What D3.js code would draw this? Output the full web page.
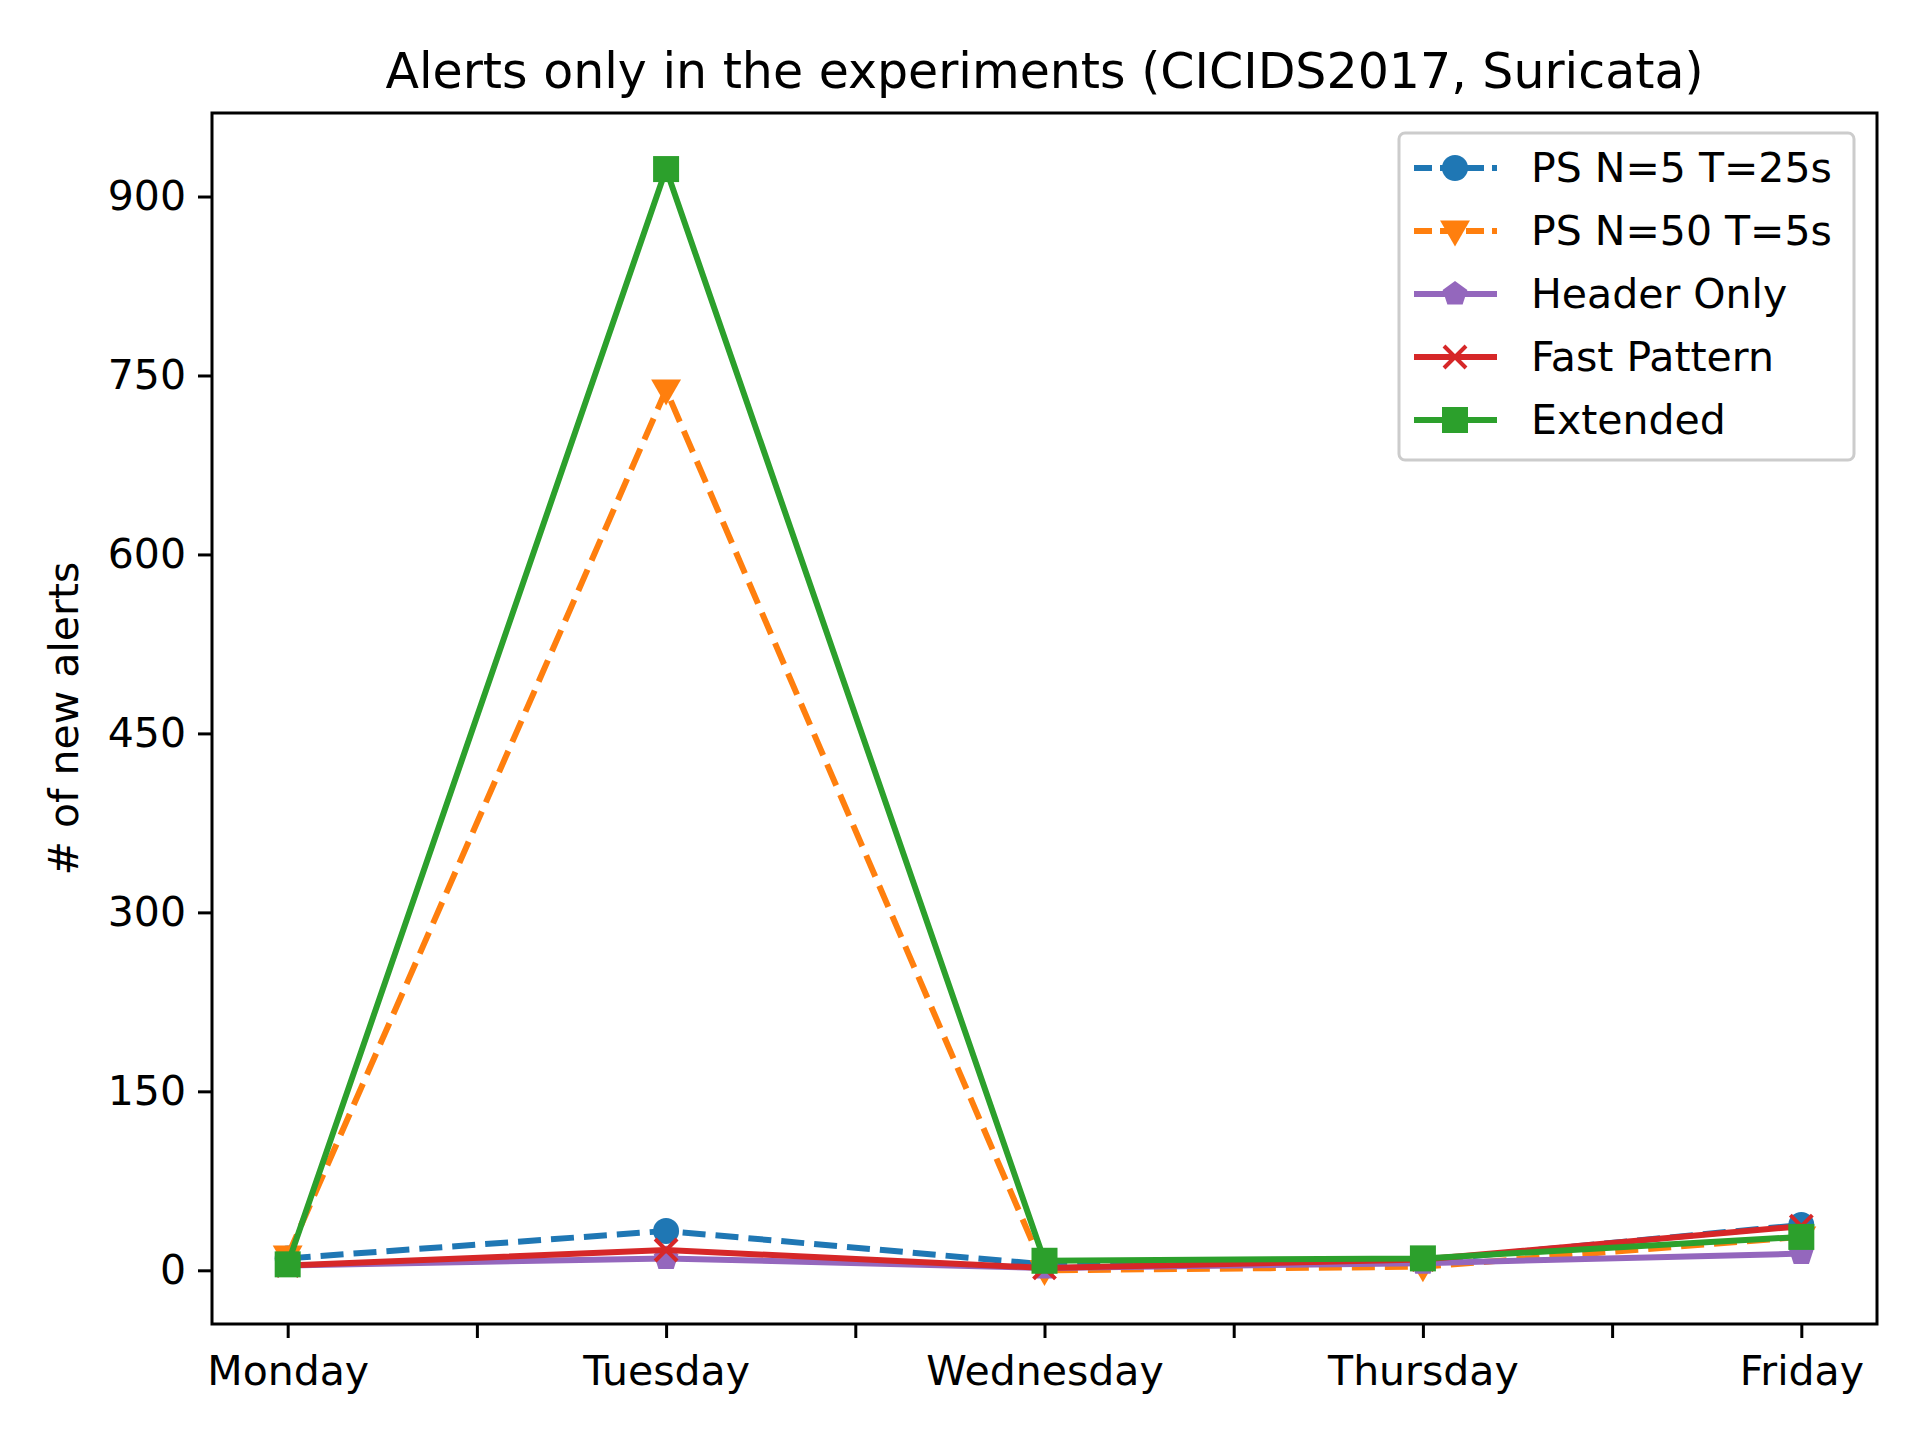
<!DOCTYPE html>
<html><head><meta charset="utf-8">
<script src="https://cdn.jsdelivr.net/npm/d3@7"></script>
<style>body{margin:0;background:#fff}text{font-family:"DejaVu Sans",sans-serif}</style>
</head><body><div id="chart"></div>
<script>
const days = ['Monday', 'Tuesday', 'Wednesday', 'Thursday', 'Friday'];
const psN5 = [10, 33, 5, 8, 38];
const psN50 = [12, 738, 0, 3, 28];
const headerOnly = [4, 10, 2, 6, 14];
const fastPattern = [4, 17, 2, 9, 37];
const extended = [5, 923, 8, 10, 28];
const yTicks = [0, 150, 300, 450, 600, 750, 900];

const series = [
  { name: 'PS N=5 T=25s', values: psN5, color: '#1f77b4', dash: '23,10', marker: 'circle' },
  { name: 'PS N=50 T=5s', values: psN50, color: '#ff7f0e', dash: '23,10', marker: 'tri' },
  { name: 'Header Only', values: headerOnly, color: '#9467bd', dash: null, marker: 'pent' },
  { name: 'Fast Pattern', values: fastPattern, color: '#d62728', dash: null, marker: 'x' },
  { name: 'Extended', values: extended, color: '#2ca02c', dash: null, marker: 'square' }
];

const W = 1920, H = 1440;
const m = { left: 212, right: 1877, top: 113, bottom: 1324 };
const svg = d3.select('#chart').append('svg').attr('width', W).attr('height', H);

const x = d3.scaleLinear().domain([-0.2, 4.2]).range([m.left, m.right]);
const y = d3.scaleLinear().domain([-45, 970]).range([m.bottom, m.top]);

// axes
const xAxis = svg.append('g').attr('transform', `translate(0,${m.bottom})`)
  .call(d3.axisBottom(x).tickValues(d3.range(0, 4.01, 0.5))
    .tickFormat(d => Number.isInteger(d) ? days[d] : '').tickSize(14).tickPadding(12));
const yAxis = svg.append('g').attr('transform', `translate(${m.left},0)`)
  .call(d3.axisLeft(y).tickValues(yTicks).tickSize(14).tickPadding(12));
[xAxis, yAxis].forEach(a => {
  a.selectAll('text').attr('font-size', 41).attr('fill', '#000');
  a.selectAll('line').attr('stroke', '#000').attr('stroke-width', 3);
  a.select('.domain').remove();
});
xAxis.selectAll('text').attr('dy', '0.85em');

svg.append('rect').attr('x', m.left).attr('y', m.top)
  .attr('width', m.right - m.left).attr('height', m.bottom - m.top)
  .attr('fill', 'none').attr('stroke', '#000').attr('stroke-width', 3);

svg.append('text').attr('x', (m.left + m.right) / 2).attr('y', 88)
  .attr('text-anchor', 'middle').attr('font-size', 49).text('Alerts only in the experiments (CICIDS2017, Suricata)');
svg.append('text').attr('transform', `translate(78,${(m.top + m.bottom) / 2}) rotate(-90)`)
  .attr('text-anchor', 'middle').attr('font-size', 41).text('# of new alerts');

function drawMarker(g, type, color, cx, cy) {
  const r = 13;
  if (type === 'circle') g.append('circle').attr('cx', cx).attr('cy', cy).attr('r', r).attr('fill', color);
  else if (type === 'square') g.append('rect').attr('x', cx - r).attr('y', cy - r).attr('width', 2 * r).attr('height', 2 * r).attr('fill', color);
  else if (type === 'tri') g.append('path').attr('d', `M${cx - r * 1.15},${cy - r * 0.8}L${cx + r * 1.15},${cy - r * 0.8}L${cx},${cy + r * 1.2}Z`).attr('fill', color);
  else if (type === 'pent') {
    const pts = d3.range(5).map(i => {
      const a = -Math.PI / 2 + i * 2 * Math.PI / 5;
      return [cx + r * Math.cos(a), cy + r * Math.sin(a)];
    });
    g.append('path').attr('d', 'M' + pts.join('L') + 'Z').attr('fill', color);
  } else {
    const k = 11;
    g.append('path').attr('d', `M${cx - k},${cy - k}L${cx + k},${cy + k}M${cx - k},${cy + k}L${cx + k},${cy - k}`)
      .attr('stroke', color).attr('stroke-width', 4);
  }
}

const line = d3.line().x((d, i) => x(i)).y(d => y(d));
series.forEach(s => {
  const g = svg.append('g');
  g.append('path').attr('d', line(s.values)).attr('fill', 'none')
    .attr('stroke', s.color).attr('stroke-width', 6).attr('stroke-dasharray', s.dash);
  s.values.forEach((v, i) => drawMarker(g, s.marker, s.color, x(i), y(v)));
});

// legend
const lg = svg.append('g');
lg.append('rect').attr('x', 1399).attr('y', 133).attr('width', 455).attr('height', 327).attr('rx', 6)
  .attr('fill', '#fff').attr('fill-opacity', 0.8).attr('stroke', '#ccc').attr('stroke-width', 3);
series.forEach((s, i) => {
  const ly = 168 + i * 63;
  lg.append('line').attr('x1', 1414).attr('x2', 1497).attr('y1', ly).attr('y2', ly)
    .attr('stroke', s.color).attr('stroke-width', 6).attr('stroke-dasharray', s.dash ? '18,8' : null);
  drawMarker(lg, s.marker, s.color, 1455, ly);
  lg.append('text').attr('x', 1531).attr('y', ly).attr('dy', '0.35em').attr('font-size', 41).text(s.name);
});
</script></body></html>
